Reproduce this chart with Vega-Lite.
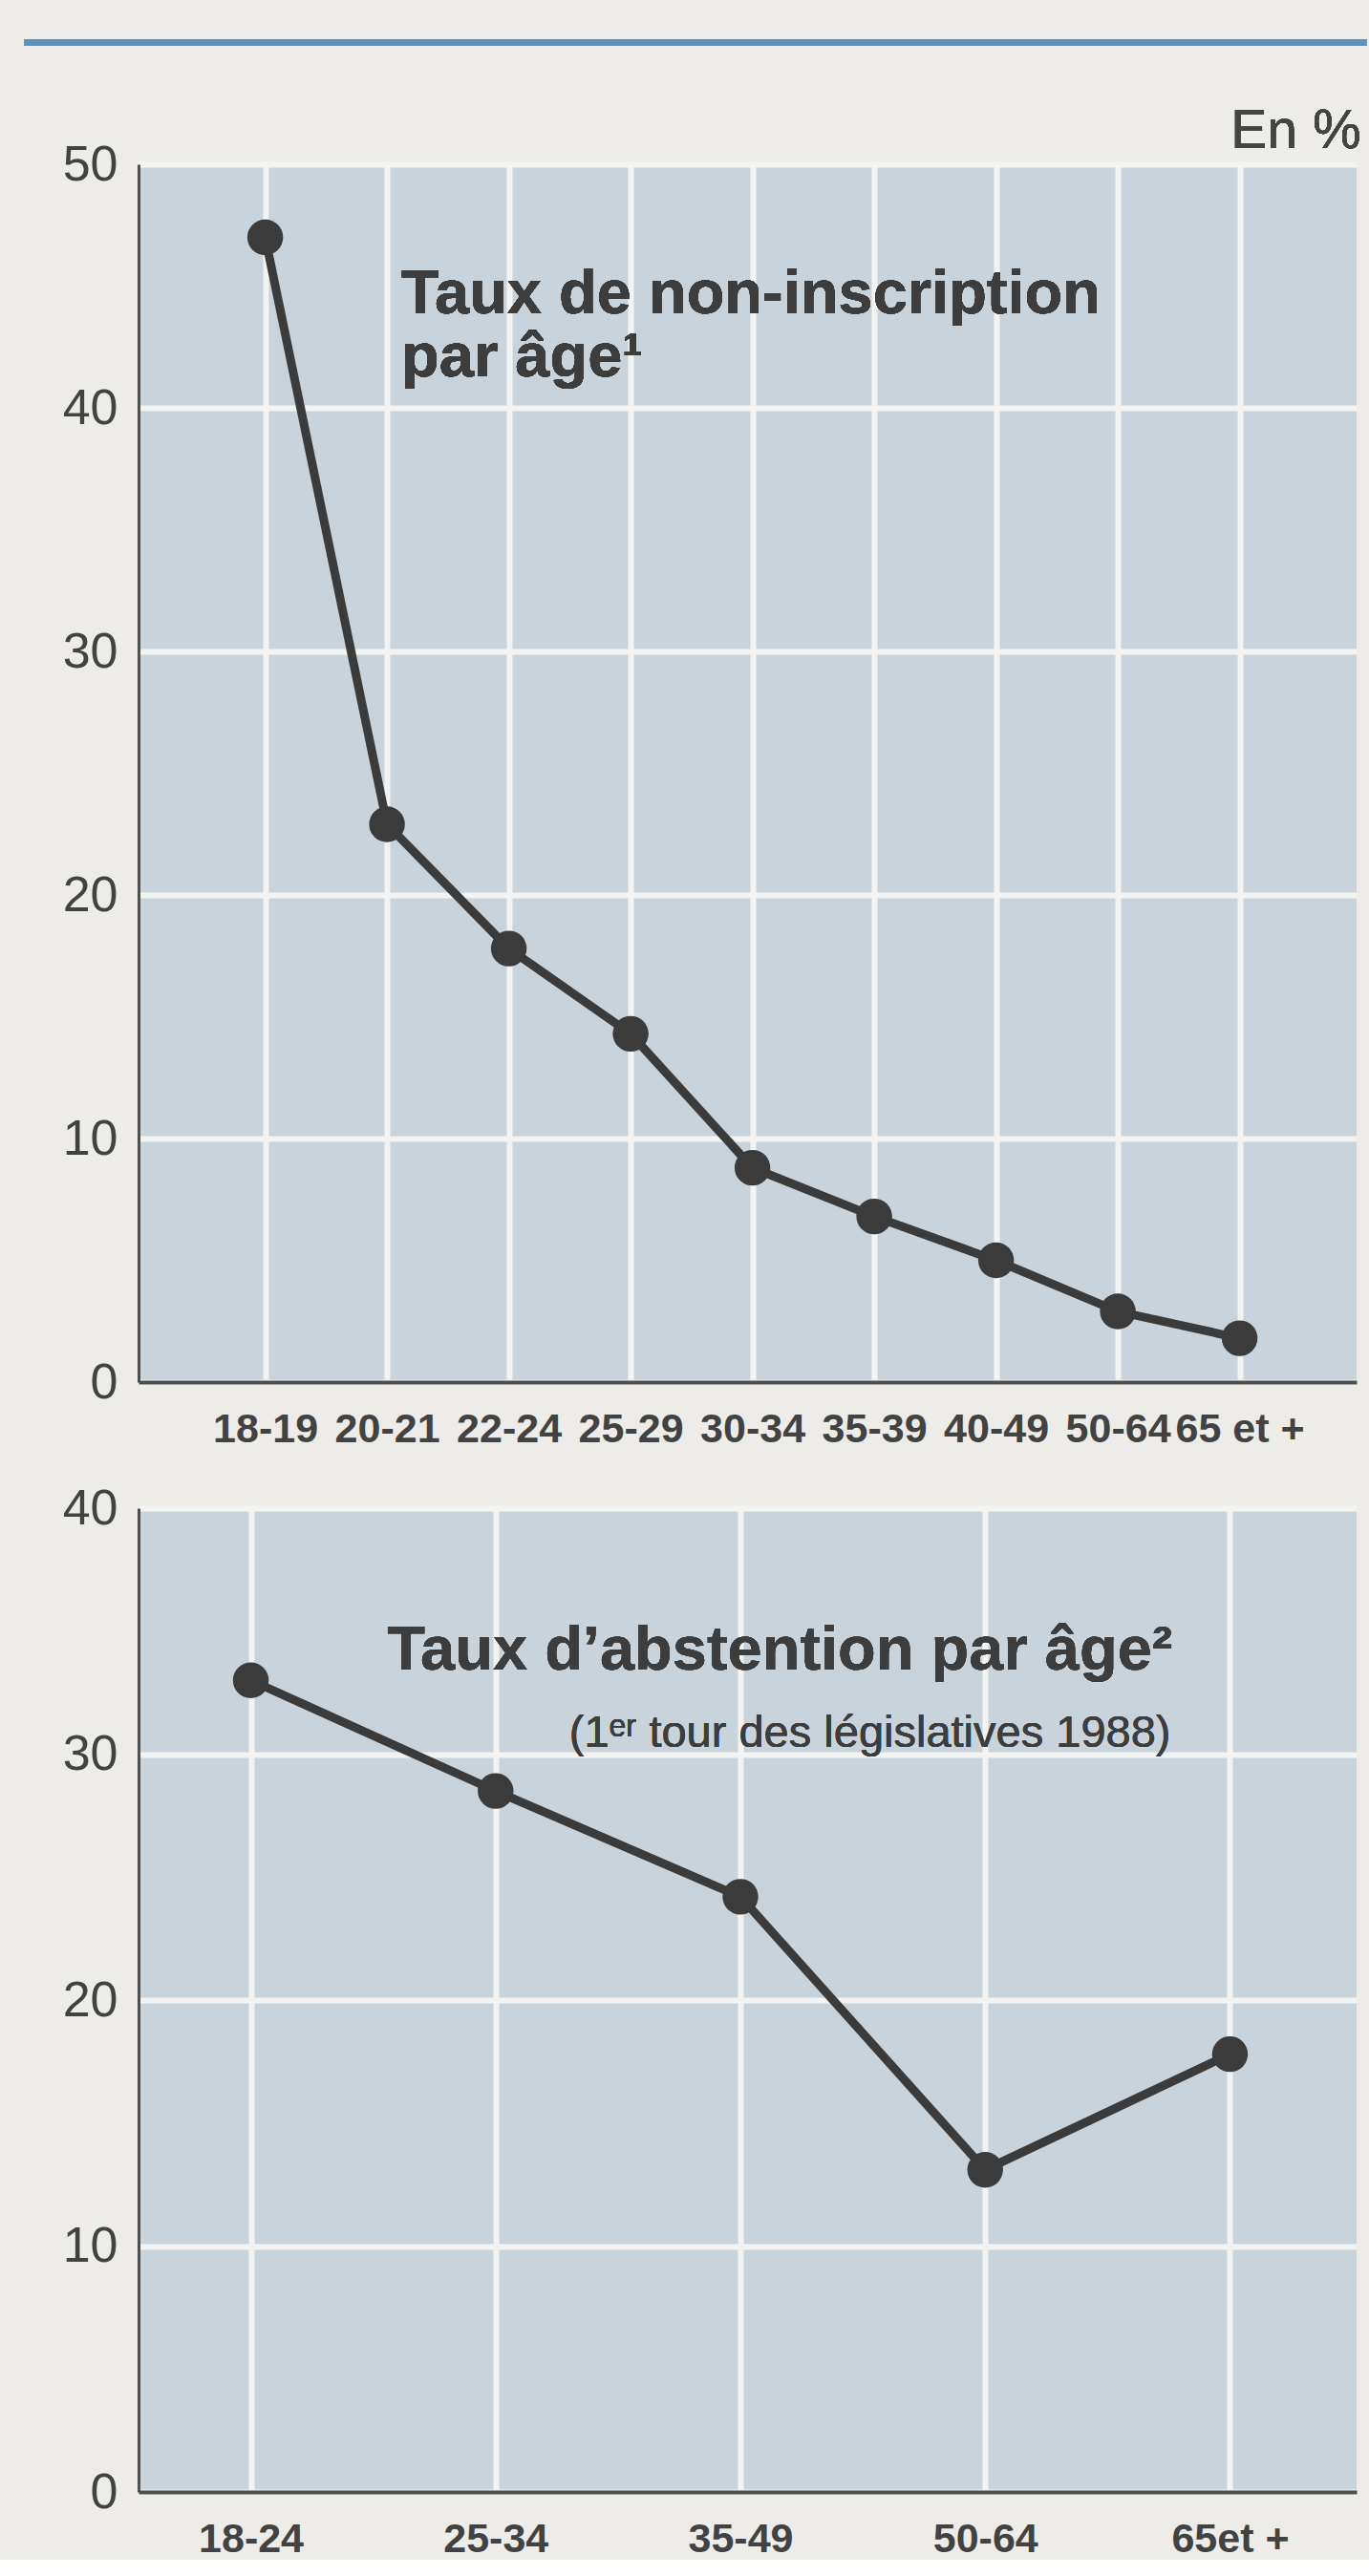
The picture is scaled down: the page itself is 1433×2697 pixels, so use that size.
{
  "$schema": "https://vega.github.io/schema/vega-lite/v6.json",
  "background": "#edece9",
  "padding": {"left": 21, "top": 40, "right": 0, "bottom": 0},
  "bounds": "flush",
  "spacing": 132,
  "config": {
    "view": {"fill": "#c9d3dc", "stroke": null},
    "axis": {
      "ticks": false,
      "title": null,
      "grid": true,
      "gridColor": "#f3f3f1",
      "gridWidth": 6,
      "gridOpacity": 1,
      "domainColor": "#4e4e4e",
      "labelColor": "#424242",
      "labelFont": "Liberation Sans, Arial, sans-serif"
    },
    "axisX": {
      "domainWidth": 4,
      "labelFontSize": 43,
      "labelFontWeight": "bold",
      "labelPadding": 28,
      "labelAngle": 0
    },
    "axisY": {
      "domainWidth": 3,
      "labelFontSize": 52,
      "labelFontWeight": "normal",
      "labelPadding": 22
    }
  },
  "vconcat": [
    {
      "width": 1275,
      "height": 1275,
      "data": {"values": [
        {"age": "18-19", "taux": 47.0},
        {"age": "20-21", "taux": 22.9},
        {"age": "22-24", "taux": 17.8},
        {"age": "25-29", "taux": 14.3},
        {"age": "30-34", "taux": 8.8},
        {"age": "35-39", "taux": 6.8},
        {"age": "40-49", "taux": 5.0},
        {"age": "50-64", "taux": 2.9},
        {"age": "65 et +", "taux": 1.8}
      ]},
      "resolve": {"scale": {"x": "independent"}},
      "layer": [
        {
          "mark": {"type": "rule", "color": "#5b93bf", "strokeWidth": 7},
          "encoding": {
            "x": {"datum": -0.094, "type": "quantitative", "scale": {"domain": [0, 1], "nice": false}, "axis": null},
            "x2": {"datum": 1.008},
            "y": {"datum": 55, "type": "quantitative", "scale": {"domain": [0, 50]}}
          }
        },
        {
          "encoding": {
            "x": {"field": "age", "type": "ordinal",
                  "scale": {"type": "point", "domain": ["18-19","20-21","22-24","25-29","30-34","35-39","40-49","50-64","65 et +"], "padding": 1, "align": 0.52},
                  "axis": {"grid": true}},
            "y": {"field": "taux", "type": "quantitative",
                  "scale": {"domain": [0, 50], "nice": false},
                  "axis": {"values": [0, 10, 20, 30, 40, 50]}}
          },
          "layer": [
            {"mark": {"type": "line", "color": "#3b3b3b", "strokeWidth": 9}},
            {"mark": {"type": "circle", "size": 1400, "color": "#3b3b3b", "opacity": 1}},
            {
              "mark": {"type": "text", "text": "Taux de non-inscription", "align": "left", "baseline": "alphabetic", "dx": 15,
                       "font": "Liberation Sans, Arial, sans-serif", "fontWeight": "bold", "fontSize": 65, "color": "#3d3d3d"},
              "encoding": {"x": {"datum": "20-21", "type": "ordinal"}, "y": {"datum": 43.88, "type": "quantitative"}}
            },
            {
              "mark": {"type": "text", "text": "par âge¹", "align": "left", "baseline": "alphabetic", "dx": 15,
                       "font": "Liberation Sans, Arial, sans-serif", "fontWeight": "bold", "fontSize": 65, "color": "#3d3d3d"},
              "encoding": {"x": {"datum": "20-21", "type": "ordinal"}, "y": {"datum": 41.3, "type": "quantitative"}}
            },
            {
              "mark": {"type": "text", "text": "En %", "align": "right", "baseline": "alphabetic", "dx": 127,
                       "font": "Liberation Sans, Arial, sans-serif", "fontWeight": "normal", "fontSize": 57, "color": "#444444"},
              "encoding": {"x": {"datum": "65 et +", "type": "ordinal"}, "y": {"datum": 50.67, "type": "quantitative"}}
            }
          ]
        }
      ]
    },
    {
      "width": 1275,
      "height": 1030,
      "data": {"values": [
        {"age": "18-24", "taux": 33.0},
        {"age": "25-34", "taux": 28.5},
        {"age": "35-49", "taux": 24.2},
        {"age": "50-64", "taux": 13.1},
        {"age": "65et +", "taux": 17.8}
      ]},
      "encoding": {
        "x": {"field": "age", "type": "ordinal",
              "scale": {"type": "point", "domain": ["18-24","25-34","35-49","50-64","65et +"], "padding": 0.488, "align": 0.47},
              "axis": {"grid": true}},
        "y": {"field": "taux", "type": "quantitative",
              "scale": {"domain": [0, 40], "nice": false},
              "axis": {"values": [0, 10, 20, 30, 40]}}
      },
      "layer": [
        {"mark": {"type": "line", "color": "#3b3b3b", "strokeWidth": 9}},
        {"mark": {"type": "circle", "size": 1400, "color": "#3b3b3b", "opacity": 1}},
        {
          "mark": {"type": "text", "text": "Taux d’abstention par âge²", "align": "right", "baseline": "alphabetic", "dx": -60,
                   "font": "Liberation Sans, Arial, sans-serif", "fontWeight": "bold", "fontSize": 65, "color": "#3d3d3d"},
          "encoding": {"x": {"datum": "65et +", "type": "ordinal"}, "y": {"datum": 33.44, "type": "quantitative"}}
        },
        {
          "mark": {"type": "text", "text": "(1ᵉʳ tour des législatives 1988)", "align": "right", "baseline": "alphabetic", "dx": -62,
                   "font": "Liberation Sans, Arial, sans-serif", "fontWeight": "normal", "fontSize": 47, "color": "#3d3d3d"},
          "encoding": {"x": {"datum": "65et +", "type": "ordinal"}, "y": {"datum": 30.29, "type": "quantitative"}}
        }
      ]
    }
  ]
}
